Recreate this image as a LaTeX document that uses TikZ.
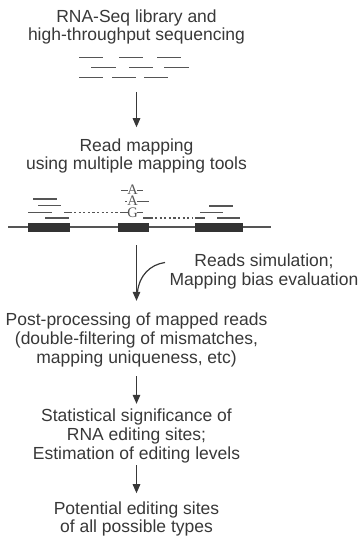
\documentclass[tikz,border=0pt]{standalone}
\usepackage{fontspec}
\setmainfont{Liberation Sans}
\newfontfamily\basefont{Liberation Serif}
\usetikzlibrary{arrows.meta}
\definecolor{txt}{HTML}{383838}
\definecolor{ln}{HTML}{555555}
\definecolor{exon}{HTML}{333333}
\begin{document}
\begin{tikzpicture}[x=1pt,y=-1pt,
  lbl/.style={align=center,text=txt,font=\fontsize{17.5}{18.8}\selectfont,inner sep=0pt},
  arr/.style={draw=txt,line width=1.2pt,-{Triangle[length=9pt,width=7.5pt]}},
  rd/.style={draw=ln,line width=1.3pt},
  dot/.style={draw=ln,line width=1.3pt,dash pattern=on 2.2pt off 2.4pt},
  exonbox/.style={fill=exon,draw=none},
  base/.style={text=ln,font=\basefont\fontsize{14.5}{14.5}\selectfont,inner sep=0pt}]
\useasboundingbox (0,0) rectangle (361,537);

% step 1
\node[lbl] (lib) at (136.5,27) {RNA-Seq library and\\high-throughput sequencing};
\draw[rd] (79,57.5) -- (103,57.5) (119,57.5) -- (143,57.5) (157,57.5) -- (181,57.5);
\draw[rd] (91,67.5) -- (116,67.5) (129,67.5) -- (153,67.5) (164,67.5) -- (189,67.5);
\draw[rd] (79,77.5) -- (103,77.5) (112,77.5) -- (136,77.5) (144,77.5) -- (168,77.5);
\coordinate (rb) at (136.5,78);

% step 2
\node[lbl] (map) at (136.5,156) {Read mapping\\using multiple mapping tools};
\draw[arr,shorten <=14pt,shorten >=11pt] (rb) -- (map.north);

% genome
\draw[rd] (8,227) -- (271,227);
\fill[exonbox] (28,222.5) rectangle (70,231.5);
\fill[exonbox] (118,222.5) rectangle (149,231.5);
\fill[exonbox] (195,222.5) rectangle (243,231.5);
% left reads
\draw[rd] (33,199) -- (57,199);
\draw[rd] (38,205.5) -- (61,205.5);
\draw[rd] (28,212.5) -- (52,212.5);
\draw[rd] (45,218) -- (69,218);
% spliced read with G
\draw[rd] (64,212.5) -- (72,212.5);
\draw[dot] (74,212.5) -- (119,212.5);
\draw[rd] (120,212.5) -- (127.5,212.5) (137,212.5) -- (143,212.5);
\node[base] (g1) at (132.5,212.3) {G};
% reads with A
\draw[rd] (121,190.5) -- (127.5,190.5) (137,190.5) -- (143,190.5);
\node[base] (a1) at (132.5,189.8) {A};
\draw[rd] (125,201.5) -- (127,201.5) (137,201.5) -- (149,201.5);
\node[base] (a2) at (132.5,201) {A};
% spliced read to the right exon
\draw[rd] (143,218) -- (153,218);
\draw[dot] (155,218) -- (193,218);
\draw[rd] (195,218) -- (205,218);
% right reads
\draw[rd] (209,206) -- (233,206);
\draw[rd] (200,212.5) -- (223,212.5);
\draw[rd] (217,218) -- (240,218);
\coordinate (gb) at (136.5,231.5);

% side note
\node[lbl] (side) at (264,271.5) {Reads simulation;\\Mapping bias evaluation};
\coordinate (cs) at (165,262.5);
\coordinate (ce) at (137.5,292);
\draw[draw=txt,line width=1.2pt] (cs) .. controls (150,264.5) and (139,276) .. (ce);

% step 3
\node[lbl] (post) at (136.5,340) {Post-processing of mapped reads\\(double-filtering of mismatches,\\mapping uniqueness, etc)};
\draw[arr,shorten <=13.5pt,shorten >=12pt] (gb) -- (post.north);

% step 4
\node[lbl] (stat) at (136.5,436) {Statistical significance of\\RNA editing sites;\\Estimation of editing levels};
\draw[arr,shorten <=9pt,shorten >=5pt] (post.south) -- (stat.north);

% step 5
\node[lbl] (pot) at (136.5,519) {Potential editing sites\\of all possible types};
\draw[arr,shorten <=2pt,shorten >=8pt] (stat.south) -- (pot.north);
\end{tikzpicture}
\end{document}
